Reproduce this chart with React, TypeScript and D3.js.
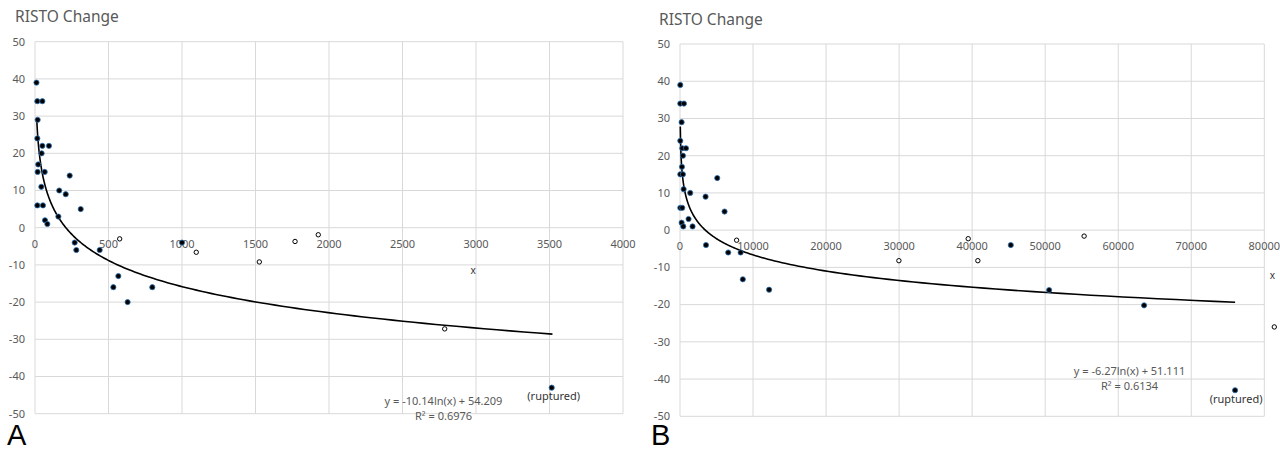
import * as d3 from 'd3';

// Panel A: distance (x) vs RISTO change
const aFilledX = [10, 16, 50, 18, 16, 50, 95, 45, 22, 18, 66, 236, 43, 165, 209, 16, 54, 311, 159, 68, 84, 270, 281, 440, 1000, 567, 533, 798, 630, 3515];
const aFilledY = [39, 34, 34, 29, 24, 22, 22, 20, 17, 15, 15, 14, 11, 10, 9, 6, 6, 5, 3, 2, 1, -4, -6, -6, -4, -13, -16, -16, -20, -43];
const aOpenX = [576, 1097, 1526, 1769, 1927, 2787];
const aOpenY = [-3, -6.6, -9.2, -3.7, -1.9, -27.2];
const aCrossX = [2980];
const aCrossY = [-11.7];
const aXTicks = [0, 500, 1000, 1500, 2000, 2500, 3000, 3500, 4000];

// Panel B
const bFilledX = [40, 40, 540, 220, 40, 310, 820, 400, 270, 40, 400, 5100, 500, 1400, 3500, 6100, 40, 310, 220, 450, 1170, 1720, 3560, 6600, 8300, 8600, 12200, 45290, 50540, 63540, 76000];
const bFilledY = [39, 34, 34, 29, 24, 22, 22, 20, 17, 15, 15, 14, 11, 10, 9, 5, 6, 6, 2, 1, 3, 1, -4, -6, -6, -13.2, -16, -4, -16.1, -20.2, -43];
const bOpenX = [7750, 29970, 39460, 40780, 55330, 81370];
const bOpenY = [-2.7, -8.2, -2.3, -8.2, -1.6, -26];
const bCrossX = [81100];
const bCrossY = [-12.3];
const bXTicks = [0, 10000, 20000, 30000, 40000, 50000, 60000, 70000, 80000];

const yTicks = [50, 40, 30, 20, 10, 0, -10, -20, -30, -40, -50];

const GRID = '#d9d9d9';
const TEXT = '#595959';
const FONT = '"Noto Sans", "Open Sans", sans-serif';

type PanelProps = {
  letter: string;
  x0: number; x1: number; yTop: number; yBot: number;
  xMax: number; xTicks: number[];
  filledX: number[]; filledY: number[];
  openX: number[]; openY: number[];
  crossX: number[]; crossY: number[];
  fit: { a: number; b: number; from: number; to: number; eq: string; r2: string; ex: number; ey: number };
  titleX: number; titleY: number; letterX: number;
  ruptured: { dx: number; dy: number };
};

function Panel(p: PanelProps) {
  const x = d3.scaleLinear().domain([0, p.xMax]).range([p.x0, p.x1]);
  const y = d3.scaleLinear().domain([-50, 50]).range([p.yBot, p.yTop]);

  // trendline y = a*ln(x) + b, sampled on a log grid
  const lx = d3.scaleLog().domain([p.fit.from, p.fit.to]);
  const samples = d3.range(0, 201).map(i => lx.invert(i / 200));
  const line = d3.line<number>()
    .x(d => x(d))
    .y(d => y(p.fit.a * Math.log(d) + p.fit.b));

  const last = p.filledX.length - 1;

  return (
    <g>
      <text x={p.titleX} y={p.titleY} fontSize={15.5} fill={TEXT} fontFamily={FONT}>RISTO Change</text>
      {yTicks.map(t => (
        <line key={'h' + t} x1={p.x0} x2={p.x1} y1={y(t)} y2={y(t)} stroke={GRID} strokeWidth={1} />
      ))}
      {p.xTicks.map(t => (
        <line key={'v' + t} x1={x(t)} x2={x(t)} y1={p.yTop} y2={p.yBot} stroke={GRID} strokeWidth={1} />
      ))}
      {yTicks.map(t => (
        <text key={'yl' + t} x={p.x0 - 10} y={y(t)} dy="0.35em" textAnchor="end" fontSize={11} fill={TEXT} fontFamily={FONT}>{t}</text>
      ))}
      {p.xTicks.map(t => (
        <text key={'xl' + t} x={x(t)} y={y(0) + 16} dy="0.35em" textAnchor="middle" fontSize={11} fill={TEXT} fontFamily={FONT}>{t}</text>
      ))}
      <path d={line(samples) ?? ''} fill="none" stroke="#000" strokeWidth={1.6} />
      {p.openX.map((v, i) => (
        <circle key={'o' + i} cx={x(v)} cy={y(p.openY[i])} r={2.2} fill="#fff" stroke="#000" strokeWidth={1} />
      ))}
      {p.crossX.map((v, i) => (
        <text key={'c' + i} x={x(v)} y={y(p.crossY[i])} dy="0.3em" textAnchor="middle" fontSize={10} fill="#333" fontFamily={FONT}>x</text>
      ))}
      {p.filledX.map((v, i) => (
        <circle key={'f' + i} cx={x(v)} cy={y(p.filledY[i])} r={2.6} fill="#000" stroke="#2e75b6" strokeWidth={0.8} />
      ))}
      <text x={x(p.filledX[last]) + p.ruptured.dx} y={y(p.filledY[last]) + p.ruptured.dy} textAnchor="middle" fontSize={11} fill="#333" fontFamily={FONT}>(ruptured)</text>
      <text x={p.fit.ex} y={p.fit.ey} textAnchor="middle" fontSize={11} fill={TEXT} fontFamily={FONT}>{p.fit.eq}</text>
      <text x={p.fit.ex} y={p.fit.ey + 15} textAnchor="middle" fontSize={11} fill={TEXT} fontFamily={FONT}>{p.fit.r2}</text>
      <text x={p.letterX} y={445} fontSize={29} fill="#000" fontFamily='"Liberation Sans", Arial, sans-serif'>{p.letter}</text>
    </g>
  );
}

export default function App() {
  return (
    <svg width={1280} height={451} style={{ position: 'absolute', left: 0, top: 0, background: '#fff' }}>
      <rect width={1280} height={451} fill="#fff" />
      <Panel
        letter="A"
        x0={35} x1={623} yTop={41.7} yBot={413.7}
        xMax={4000} xTicks={aXTicks}
        filledX={aFilledX} filledY={aFilledY}
        openX={aOpenX} openY={aOpenY}
        crossX={aCrossX} crossY={aCrossY}
        fit={{ a: -10.14, b: 54.209, from: 12, to: 3520, eq: 'y = -10.14ln(x) + 54.209', r2: 'R² = 0.6976', ex: 443.5, ey: 405 }}
        titleX={15} titleY={21.5} letterX={7}
        ruptured={{ dx: 2, dy: 12 }}
      />
      <Panel
        letter="B"
        x0={680} x1={1264.3} yTop={44} yBot={416.3}
        xMax={80000} xTicks={bXTicks}
        filledX={bFilledX} filledY={bFilledY}
        openX={bOpenX} openY={bOpenY}
        crossX={bCrossX} crossY={bCrossY}
        fit={{ a: -6.27, b: 51.111, from: 41, to: 76000, eq: 'y = -6.27ln(x) + 51.111', r2: 'R² = 0.6134', ex: 1129.5, ey: 375 }}
        titleX={659} titleY={24.5} letterX={651}
        ruptured={{ dx: 1, dy: 13 }}
      />
    </svg>
  );
}
